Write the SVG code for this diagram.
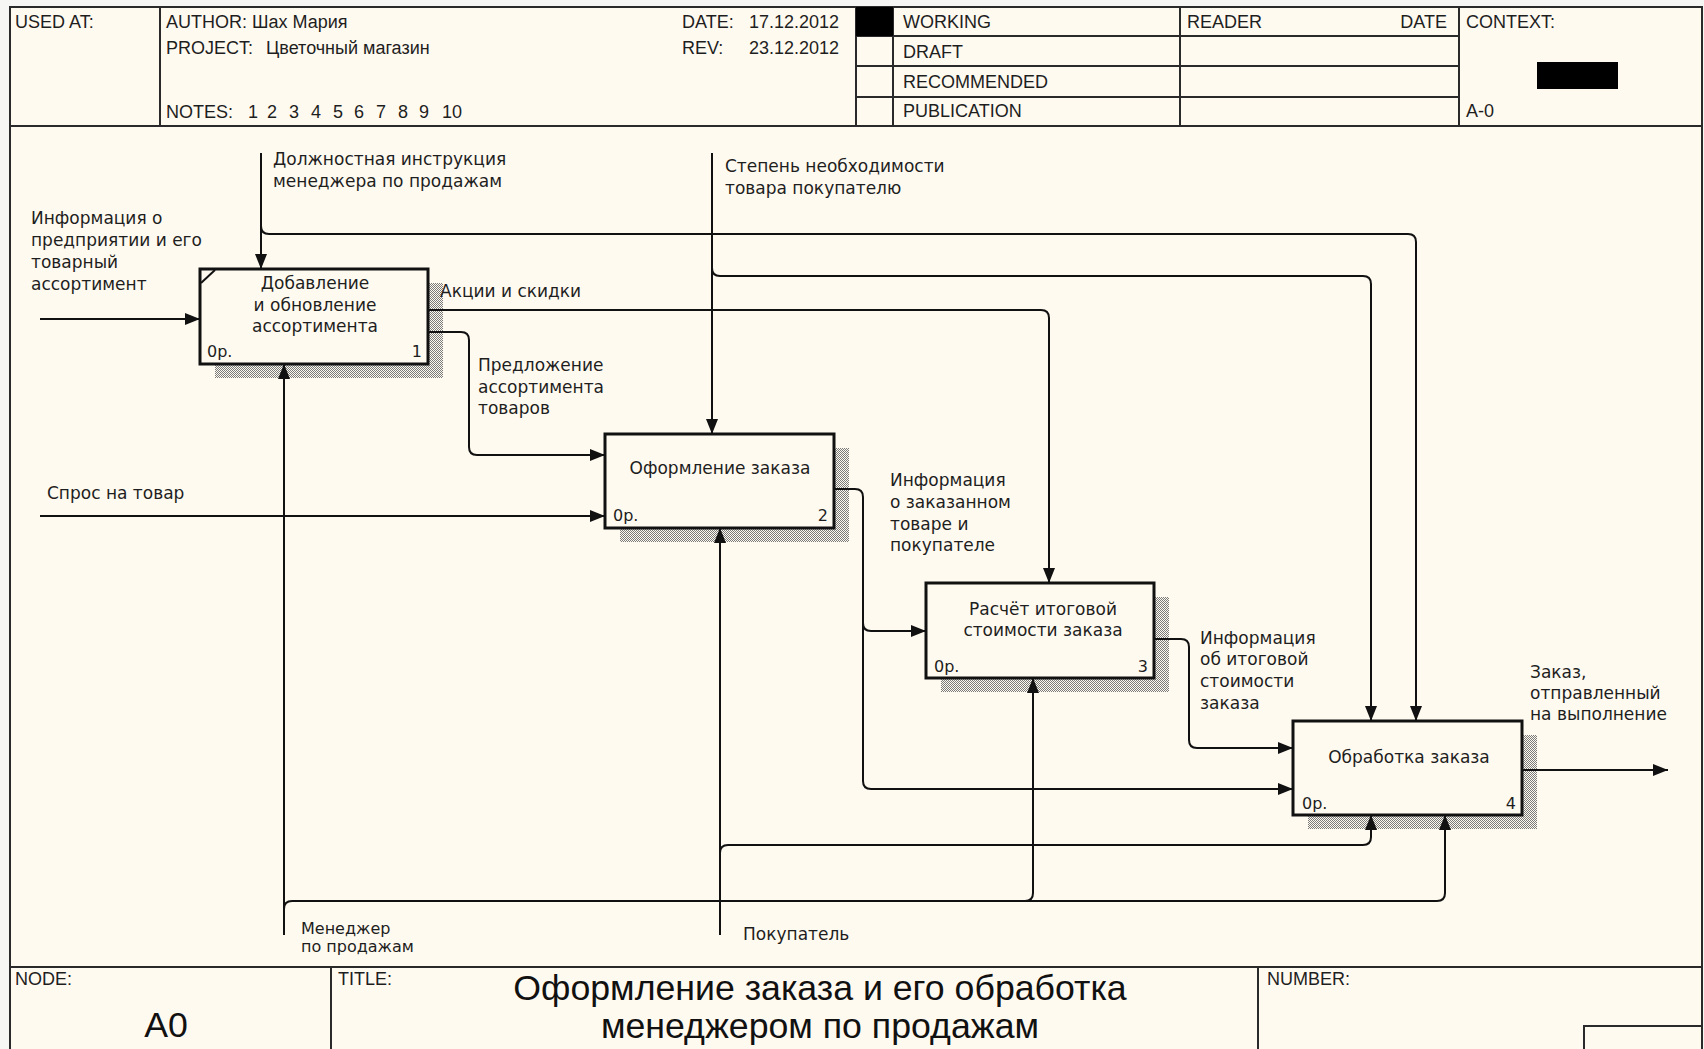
<svg xmlns="http://www.w3.org/2000/svg" width="1704" height="1049" viewBox="0 0 1704 1049">
<style>
.hdr{font-family:'Liberation Sans',Arial,sans-serif;font-size:18px;fill:#1e1e1e}
.lbl{font-family:'DejaVu Sans',sans-serif;font-size:17px;fill:#1e1e1e}
.sm{font-family:'DejaVu Sans',sans-serif;font-size:16px;fill:#1e1e1e}
.big{font-family:'Liberation Sans',Arial,sans-serif;font-size:35.7px;fill:#111}
.frame{fill:none;stroke:#2a2a2a;stroke-width:2}
.box{fill:#fffaf0;stroke:#111;stroke-width:3}
.shadow{fill:url(#hatch)}
.arr{fill:none;stroke:#111;stroke-width:2}
.mid{text-anchor:middle}
.end{text-anchor:end}
</style>
<defs>
<pattern id="hatch" width="2" height="2" patternUnits="userSpaceOnUse"><rect x="0" y="0" width="2" height="2" fill="#fffaf0"/><rect x="0" y="0" width="1" height="1" fill="#7a7a7a"/><rect x="1" y="1" width="1" height="1" fill="#7a7a7a"/></pattern>
<marker id="ah" markerUnits="userSpaceOnUse" markerWidth="15" markerHeight="12" refX="15" refY="6" orient="auto"><path d="M0,0 L15,6 L0,12 z" fill="#111"/></marker>
</defs>
<rect x="0" y="0" width="1704" height="1049" fill="#f6f6f4"/>
<rect x="10" y="7" width="1692" height="1060" fill="#fffaf0"/>
<g id="frame">
<rect class="frame" x="10" y="7" width="1692" height="1060"/>
<line class="frame" x1="10" y1="126" x2="1702" y2="126"/>
<line class="frame" x1="160" y1="7" x2="160" y2="126"/>
<line class="frame" x1="856" y1="7" x2="856" y2="126"/>
<line class="frame" x1="893" y1="7" x2="893" y2="126"/>
<line class="frame" x1="1180" y1="7" x2="1180" y2="126"/>
<line class="frame" x1="1459" y1="7" x2="1459" y2="126"/>
<line class="frame" x1="856" y1="36" x2="1459" y2="36"/>
<line class="frame" x1="856" y1="66" x2="1459" y2="66"/>
<line class="frame" x1="856" y1="97" x2="1459" y2="97"/>
<rect x="856" y="7" width="37" height="29" fill="#000"/>
<rect x="1537" y="62" width="81" height="27" fill="#000"/>
<line class="frame" x1="10" y1="967" x2="1702" y2="967"/>
<line class="frame" x1="331" y1="967" x2="331" y2="1049"/>
<line class="frame" x1="1258" y1="967" x2="1258" y2="1049"/>
<path class="frame" d="M1584,1049 V1026 H1702"/>
<text class="hdr" x="15" y="28">USED AT:</text>
<text class="hdr" x="166" y="28">AUTHOR:</text>
<text class="hdr" x="252" y="28">Шах Мария</text>
<text class="hdr" x="166" y="54">PROJECT:</text>
<text class="hdr" x="266" y="54">Цветочный магазин</text>
<text class="hdr" x="166" y="118">NOTES:</text>
<text class="hdr" x="248" y="118">1</text>
<text class="hdr" x="267" y="118">2</text>
<text class="hdr" x="289" y="118">3</text>
<text class="hdr" x="311" y="118">4</text>
<text class="hdr" x="333" y="118">5</text>
<text class="hdr" x="354" y="118">6</text>
<text class="hdr" x="376" y="118">7</text>
<text class="hdr" x="398" y="118">8</text>
<text class="hdr" x="419" y="118">9</text>
<text class="hdr" x="442" y="118">10</text>
<text class="hdr" x="682" y="28">DATE:</text>
<text class="hdr" x="749" y="28">17.12.2012</text>
<text class="hdr" x="682" y="54">REV:</text>
<text class="hdr" x="749" y="54">23.12.2012</text>
<text class="hdr" x="903" y="28">WORKING</text>
<text class="hdr" x="903" y="58">DRAFT</text>
<text class="hdr" x="903" y="88">RECOMMENDED</text>
<text class="hdr" x="903" y="117">PUBLICATION</text>
<text class="hdr" x="1187" y="28">READER</text>
<text class="hdr end" x="1447" y="28">DATE</text>
<text class="hdr" x="1466" y="28">CONTEXT:</text>
<text class="hdr" x="1466" y="117">A-0</text>
<text class="hdr" x="15" y="985">NODE:</text>
<text class="big mid" x="166" y="1037">A0</text>
<text class="hdr" x="338" y="985">TITLE:</text>
<text class="big mid" x="820" y="1000">Оформление заказа и его обработка</text>
<text class="big mid" x="820" y="1038">менеджером по продажам</text>
<text class="hdr" x="1267" y="985">NUMBER:</text>
</g>
<g id="node1">
<rect class="shadow" x="215" y="283" width="228" height="95"/>
<rect class="box" x="200" y="269" width="228" height="95"/>
<line x1="201" y1="283" x2="215" y2="270" stroke="#111" stroke-width="2"/>
<text class="lbl mid" x="315" y="289">Добавление</text>
<text class="lbl mid" x="315" y="311">и обновление</text>
<text class="lbl mid" x="315" y="332">ассортимента</text>
<text class="sm" x="207" y="357">0р.</text>
<text class="sm end" x="422" y="357">1</text>
</g>
<g id="node2">
<rect class="shadow" x="620" y="448" width="229" height="94"/>
<rect class="box" x="605" y="434" width="229" height="94"/>
<text class="lbl mid" x="720" y="474">Оформление заказа</text>
<text class="sm" x="613" y="521">0р.</text>
<text class="sm end" x="828" y="521">2</text>
</g>
<g id="node3">
<rect class="shadow" x="941" y="597" width="228" height="95"/>
<rect class="box" x="926" y="583" width="228" height="95"/>
<text class="lbl mid" x="1043" y="615">Расчёт итоговой</text>
<text class="lbl mid" x="1043" y="636">стоимости заказа</text>
<text class="sm" x="934" y="672">0р.</text>
<text class="sm end" x="1148" y="672">3</text>
</g>
<g id="node4">
<rect class="shadow" x="1308" y="735" width="229" height="94"/>
<rect class="box" x="1293" y="721" width="229" height="94"/>
<text class="lbl mid" x="1409" y="763">Обработка заказа</text>
<text class="sm" x="1302" y="809">0р.</text>
<text class="sm end" x="1516" y="809">4</text>
</g>
<g id="connectors">
<path class="arr" d="M40,319 H200" marker-end="url(#ah)"/>
<path class="arr" d="M261,153 V269" marker-end="url(#ah)"/>
<path class="arr" d="M261,226 Q261,234 269,234 H1408 Q1416,234 1416,242 V721" marker-end="url(#ah)"/>
<path class="arr" d="M712,153 V434" marker-end="url(#ah)"/>
<path class="arr" d="M712,268 Q712,276 720,276 H1363 Q1371,276 1371,284 V721" marker-end="url(#ah)"/>
<path class="arr" d="M428,310 H1041 Q1049,310 1049,318 V583" marker-end="url(#ah)"/>
<path class="arr" d="M428,332 H461 Q469,332 469,340 V447 Q469,455 477,455 H605" marker-end="url(#ah)"/>
<path class="arr" d="M40,516 H605" marker-end="url(#ah)"/>
<path class="arr" d="M284,935 V364" marker-end="url(#ah)"/>
<path class="arr" d="M284,909 Q284,901 292,901 H1437 Q1445,901 1445,893 V815" marker-end="url(#ah)"/>
<path class="arr" d="M1025,901 Q1033,901 1033,893 V678" marker-end="url(#ah)"/>
<path class="arr" d="M720,935 V528" marker-end="url(#ah)"/>
<path class="arr" d="M720,853 Q720,845 728,845 H1363 Q1371,845 1371,837 V815" marker-end="url(#ah)"/>
<path class="arr" d="M834,489 H855 Q863,489 863,497 V781 Q863,789 871,789 H1293" marker-end="url(#ah)"/>
<path class="arr" d="M863,623 Q863,631 871,631 H926" marker-end="url(#ah)"/>
<path class="arr" d="M1154,639 H1181 Q1189,639 1189,647 V740 Q1189,748 1197,748 H1293" marker-end="url(#ah)"/>
<path class="arr" d="M1522,770 H1668" marker-end="url(#ah)"/>
<text class="lbl" x="31" y="224">Информация о</text>
<text class="lbl" x="31" y="246">предприятии и его</text>
<text class="lbl" x="31" y="268">товарный</text>
<text class="lbl" x="31" y="290">ассортимент</text>
<text class="lbl" x="273" y="165">Должностная инструкция</text>
<text class="lbl" x="273" y="187">менеджера по продажам</text>
<text class="lbl" x="725" y="172">Степень необходимости</text>
<text class="lbl" x="725" y="194">товара покупателю</text>
<text class="lbl" x="440" y="297">Акции и скидки</text>
<text class="lbl" x="478" y="371">Предложение</text>
<text class="lbl" x="478" y="393">ассортимента</text>
<text class="lbl" x="478" y="414">товаров</text>
<text class="lbl" x="47" y="499">Спрос на товар</text>
<text class="lbl" x="890" y="486">Информация</text>
<text class="lbl" x="890" y="508">о заказанном</text>
<text class="lbl" x="890" y="530">товаре и</text>
<text class="lbl" x="890" y="551">покупателе</text>
<text class="lbl" x="1200" y="644">Информация</text>
<text class="lbl" x="1200" y="665">об итоговой</text>
<text class="lbl" x="1200" y="687">стоимости</text>
<text class="lbl" x="1200" y="709">заказа</text>
<text class="lbl" x="1530" y="678">Заказ,</text>
<text class="lbl" x="1530" y="699">отправленный</text>
<text class="lbl" x="1530" y="720">на выполнение</text>
<text class="sm" x="301" y="934">Менеджер</text>
<text class="sm" x="301" y="952">по продажам</text>
<text class="lbl" x="743" y="940">Покупатель</text>
</g>
</svg>
